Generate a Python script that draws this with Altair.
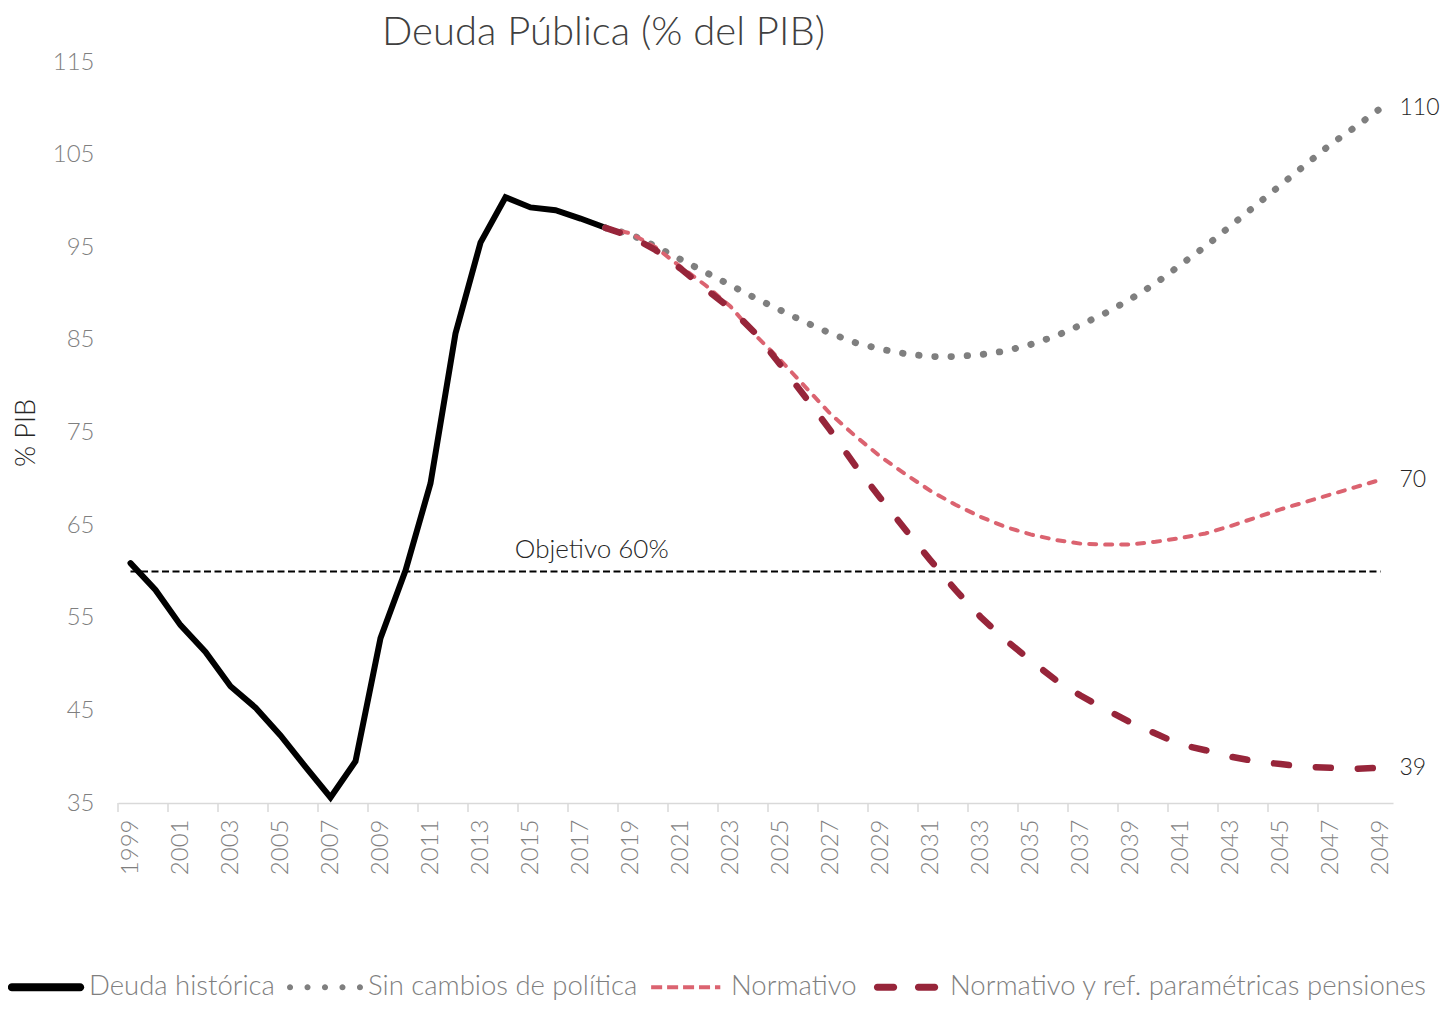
import altair as alt
import pandas as pd

# ---------------- data ----------------
HIST_YEARS = list(range(1999, 2019))
HIST_VALUES = [60.9, 58.0, 54.2, 51.3, 47.6, 45.3, 42.3, 38.9, 35.6, 39.5,
               52.8, 60.1, 69.5, 85.7, 95.5, 100.4, 99.3, 99.0, 98.1, 97.1]

PROJ_YEARS = list(range(2018, 2050))
SIN_CAMBIOS = [97.1, 96.4, 95.1, 93.7, 92.3, 90.9, 89.5, 88.2, 86.9, 85.7,
               84.7, 84.0, 83.5, 83.2, 83.2, 83.4, 83.8, 84.5, 85.4, 86.6,
               87.9, 89.4, 91.1, 93.1, 95.1, 97.3, 99.5, 101.7, 103.9, 106.1,
               108.0, 110.0]
NORMATIVO = [97.1, 96.5, 95.0, 92.9, 90.9, 88.6, 85.5, 82.8, 79.9, 77.0,
             74.6, 72.4, 70.5, 68.7, 67.2, 65.9, 64.8, 64.0, 63.4, 63.0,
             62.9, 62.9, 63.2, 63.6, 64.1, 64.9, 65.8, 66.7, 67.5, 68.3,
             69.1, 69.9]
NORM_PENS = [97.1, 96.2, 94.7, 92.7, 90.5, 88.4, 85.7, 82.3, 78.8, 75.2,
             71.4, 67.9, 64.5, 61.2, 58.0, 55.1, 52.6, 50.4, 48.3, 46.6,
             45.1, 43.7, 42.5, 41.3, 40.7, 40.0, 39.5, 39.2, 38.9, 38.8,
             38.7, 38.8]

SERIES = ["Deuda histórica", "Sin cambios de política", "Normativo",
          "Normativo y ref. paramétricas pensiones"]
COLORS = ["#000000", "#7f7f7f", "#db6370", "#97253a"]

OBJETIVO = 60
OBJETIVO_LABEL = "Objetivo 60%"
OBJETIVO_LABEL_YEAR = 2017.45

X_LABEL_YEARS = list(range(1999, 2050, 2))
Y_TICKS = list(range(35, 116, 10))
TITLE = "Deuda Pública (% del PIB)"
Y_TITLE = "% PIB"

# ---------------- tables ----------------
hist = pd.DataFrame({"year": HIST_YEARS, "value": HIST_VALUES})
sin = pd.DataFrame({"year": PROJ_YEARS, "value": SIN_CAMBIOS})
norm = pd.DataFrame({"year": PROJ_YEARS, "value": NORMATIVO})
pens = pd.DataFrame({"year": PROJ_YEARS, "value": NORM_PENS})
ends = pd.DataFrame({
    "year": [PROJ_YEARS[-1]] * 3,
    "value": [SIN_CAMBIOS[-1], NORMATIVO[-1], NORM_PENS[-1]],
})
ends["label"] = ends["value"].round().astype(int).astype(str)
ticks = pd.DataFrame({"t": [y - 0.5 for y in X_LABEL_YEARS[:-1]]})
obj = pd.DataFrame({"x1": [HIST_YEARS[0]], "x2": [PROJ_YEARS[-1]], "y": [OBJETIVO]})
obj_lbl = pd.DataFrame({"x": [OBJETIVO_LABEL_YEAR], "y": [OBJETIVO], "t": [OBJETIVO_LABEL]})
leg = pd.DataFrame({"serie": SERIES})

FONT = "Lato"
W, H = 1275, 741

xs = alt.Scale(domain=[HIST_YEARS[0] - 0.5, PROJ_YEARS[-1] + 0.5], nice=False, zero=False)
ys = alt.Scale(domain=[35, 115], nice=False, zero=False)

x_axis = alt.Axis(values=X_LABEL_YEARS, format="d", labelAngle=270, ticks=False,
                  grid=False, domainColor="#d9d9d9", domainWidth=1.5,
                  labelFont=FONT, labelFontSize=24, labelFontWeight=300,
                  labelColor="#7f7f7f", labelPadding=16, title=None,
                  labelOverlap=False)
y_axis = alt.Axis(values=Y_TICKS, ticks=False, grid=False, domain=False,
                  labelFont=FONT, labelFontSize=24, labelFontWeight=300,
                  labelColor="#7f7f7f", labelPadding=24,
                  title=Y_TITLE, titleFont=FONT, titleFontSize=27,
                  titleFontWeight=300, titleColor="#262626", titlePadding=12)

X = alt.X("year:Q", scale=xs, axis=x_axis)
Y = alt.Y("value:Q", scale=ys, axis=y_axis)

tick_layer = alt.Chart(ticks).mark_rule(color="#d9d9d9", strokeWidth=1.5).encode(
    x=alt.X("t:Q", scale=xs, axis=x_axis), y=alt.value(H), y2=alt.value(H + 9))

obj_rule = alt.Chart(obj).mark_rule(color="#000000", strokeWidth=2,
                                    strokeDash=[7, 3.5]).encode(
    x=alt.X("x1:Q", scale=xs, axis=x_axis), x2="x2:Q",
    y=alt.Y("y:Q", scale=ys, axis=y_axis))

obj_text = alt.Chart(obj_lbl).mark_text(font=FONT, fontSize=26, fontWeight=300,
                                        color="#262626", align="center",
                                        baseline="alphabetic", dy=-13).encode(
    x=alt.X("x:Q", scale=xs, axis=x_axis), y=alt.Y("y:Q", scale=ys, axis=y_axis),
    text="t:N")

l_hist = alt.Chart(hist).mark_line(color=COLORS[0], strokeWidth=6,
                                   strokeCap="round").encode(x=X, y=Y)
l_sin = alt.Chart(sin).mark_line(color=COLORS[1], strokeWidth=6.8,
                                 strokeDash=[0.5, 15.7], strokeCap="round").encode(x=X, y=Y)
l_norm = alt.Chart(norm).mark_line(color=COLORS[2], strokeWidth=4,
                                   strokeDash=[7, 9], strokeCap="round").encode(x=X, y=Y)
l_pens = alt.Chart(pens).mark_line(color=COLORS[3], strokeWidth=6.5,
                                   strokeDash=[15, 27], strokeCap="round").encode(x=X, y=Y)

end_text = alt.Chart(ends).mark_text(font=FONT, fontSize=23, fontWeight=300,
                                     color="#262626", align="left",
                                     baseline="middle", dx=19).encode(
    x=X, y=Y, text="label:N")


# legend symbols as custom paths (unit = sqrt(size)/2 px)
def circle(cx, r):
    return (f"M{cx - r:.3f},0A{r:.3f},{r:.3f} 0 1 0 {cx + r:.3f},0"
            f"A{r:.3f},{r:.3f} 0 1 0 {cx - r:.3f},0Z")


def rect(x0, x1, h):
    return f"M{x0:.3f},{-h:.3f}H{x1:.3f}V{h:.3f}H{x0:.3f}Z"


def pill(x0, x1, r):
    return (f"M{x0:.3f},{-r:.3f}H{x1:.3f}A{r:.3f},{r:.3f} 0 0 1 {x1:.3f},{r:.3f}"
            f"H{x0:.3f}A{r:.3f},{r:.3f} 0 0 1 {x0:.3f},{-r:.3f}Z")


PATHS = [
    pill(-0.9, 0.9, 0.105),
    "".join(circle(c, 0.08) for c in [-0.92, -0.46, 0.0, 0.46, 0.92]),
    "".join(rect(a, b, 0.053) for a, b in [(-0.97, -0.68), (-0.55, -0.26),
                                             (-0.13, 0.16), (0.29, 0.58), (0.71, 0.85)]),
    pill(-0.78, -0.35, 0.092) + pill(0.30, 0.73, 0.092),
]

legend = alt.Legend(title=None, orient="none", legendX=-110, legendY=887,
                    direction="horizontal", columns=4, symbolSize=5776,
                    symbolStrokeWidth=0, labelFont=FONT, labelFontSize=27.5,
                    labelFontWeight=300, labelColor="#7f7f7f", labelOffset=5,
                    columnPadding=12, labelLimit=1000)

leg_layer = alt.Chart(leg).transform_filter("false").mark_point(
    filled=True, opacity=1).encode(
    color=alt.Color("serie:N", scale=alt.Scale(domain=SERIES, range=COLORS), legend=legend),
    shape=alt.Shape("serie:N", scale=alt.Scale(domain=SERIES, range=PATHS), legend=legend),
)

chart = alt.layer(
    tick_layer, obj_rule, obj_text, l_hist, l_sin, l_norm, l_pens, end_text, leg_layer
).properties(
    width=W, height=H,
    background="white",
    autosize=alt.AutoSizeParams(type="none"),
    padding={"left": 110, "top": 54, "right": 48, "bottom": 200},
    title=alt.TitleParams(TITLE, anchor="middle", frame="group", dx=-152,
                          font=FONT, fontSize=40, fontWeight=300,
                          color="#404040", offset=-3),
).configure_view(stroke="transparent", strokeWidth=0)

chart.save("out.html", embed_options={"renderer": "svg", "actions": False})
